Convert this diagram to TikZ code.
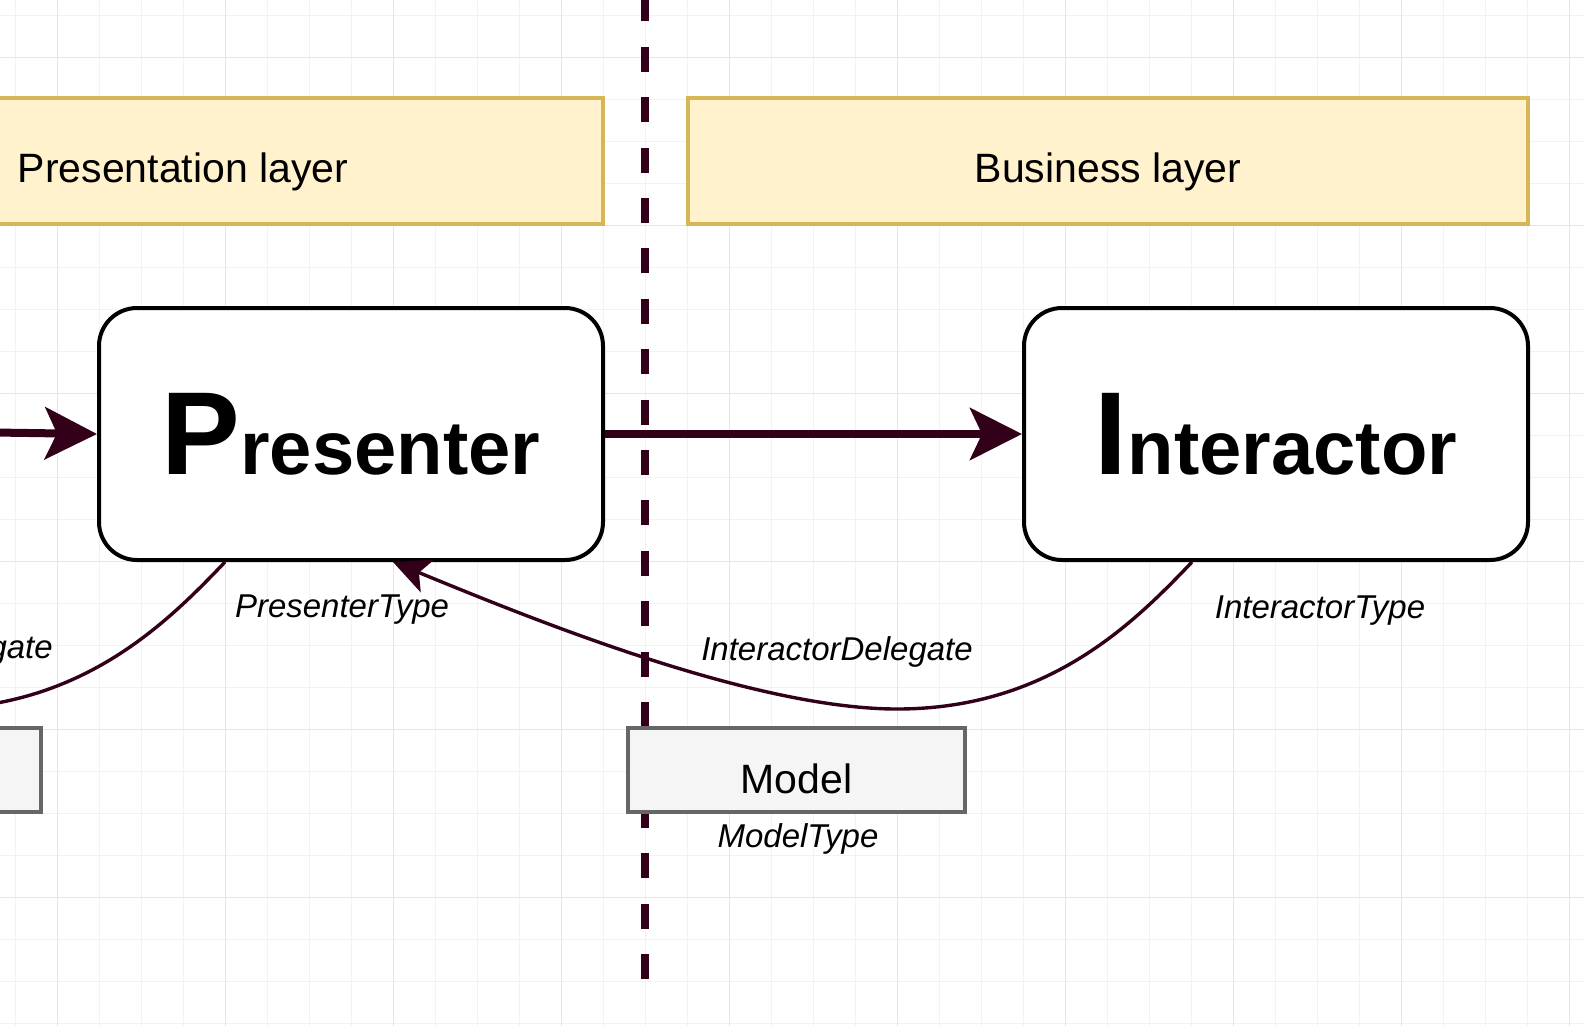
\documentclass[tikz,border=0pt]{standalone}
\usepackage{fontspec}
\setmainfont{Liberation Sans}
\usetikzlibrary{positioning,calc,arrows.meta}
\definecolor{edgecol}{HTML}{33001A}
\definecolor{layerfill}{HTML}{FFF2CC}
\definecolor{layerline}{HTML}{D6B656}
\definecolor{modelfill}{HTML}{F5F5F5}
\definecolor{modelline}{HTML}{666666}
\definecolor{gridminor}{HTML}{F2F2F2}
\definecolor{gridmajor}{HTML}{E5E5E5}
\newcommand{\firstcap}[2]{{\fontsize{118}{120}\selectfont #1}{\fontsize{76}{90}\selectfont #2}}
\tikzstyle{layer} = [draw=layerline, fill=layerfill, line width=3.3pt, rectangle, minimum width=840pt, minimum height=126pt, text height=42pt, text depth=0pt, font=\fontsize{41}{49}\selectfont]
\tikzstyle{block} = [draw=black, fill=white, line width=4pt, rectangle, rounded corners=38pt, minimum width=504pt, minimum height=252pt, font=\bfseries]
\tikzstyle{datab} = [draw=modelline, fill=modelfill, line width=3.3pt, rectangle, minimum width=337pt, minimum height=84pt, text height=46pt, text depth=0pt, font=\fontsize{41}{49}\selectfont]
\tikzstyle{typelabel} = [inner sep=0pt, anchor=base, font=\fontsize{33}{40}\selectfont\itshape]
\tikzstyle{to} = [-{Stealth[length=52pt,width=52pt,inset=12pt]}, draw=edgecol, line width=8pt]
\tikzstyle{wire} = [draw=edgecol, line width=3.4pt]
\tikzstyle{dep} = [-{Stealth[length=37pt,width=35pt,inset=9pt]}]
\tikzstyle{border} = [draw=edgecol, line width=7.5pt, dash pattern=on 25pt off 25.4pt]

\begin{document}
\begin{tikzpicture}[x=1pt, y=-1pt]
		\useasboundingbox (0,0) rectangle (1584,1026);
		\clip (0,0) rectangle (1584,1026);
		\fill[white] (0,0) rectangle (1584,1026);
		% grid
		\foreach \g in {15,57,...,1584} \draw[gridminor, line width=1pt] (\g,0) -- (\g,1026);
		\foreach \g in {15,57,...,1026} \draw[gridminor, line width=1pt] (0,\g) -- (1584,\g);
		\foreach \g in {57,225,...,1584} \draw[gridmajor, line width=1pt] (\g,0) -- (\g,1026);
		\foreach \g in {57,225,...,1026} \draw[gridmajor, line width=1pt] (0,\g) -- (1584,\g);
		% layer border
		\draw[border] (645,979) -- (645,-5);
		\node (presentation) [layer] at (183,161) {Presentation layer};
		\node (business) [layer] at (1108,161) {Business layer};
		\node (presenter) [block] at (351,434) {\firstcap{P}{resenter}};
		\node (interactor) [block] at (1276,434) {\firstcap{I}{nteractor}};
		\node (viewmodel) [datab] at (-127.5,770) {};
		\node (model) [datab] at (796.5,770) {Model};
		\coordinate (viewout) at (-40,432);
		\coordinate (viewin) at (-70,709);
		\coordinate (dip) at (897,709);
		\draw[to] (viewout) -- (presenter.west);
		\draw[to] (presenter.east) -- (interactor.west);
		\draw[wire] ([xshift=-126pt]presenter.south) .. controls (165,625) and (80,709) .. (viewin);
		\draw[wire,dep] ([xshift=-84pt]interactor.south) .. controls (1132,625) and (1047,709) .. (dip)
			.. controls (747,709) and (513,611) .. ([xshift=42pt]presenter.south);
		\node (presentertype) [typelabel] at (342,617) {PresenterType};
		\node (interactortype) [typelabel] at (1320,618) {InteractorType};
		\node (interactordelegate) [typelabel] at (837,660) {InteractorDelegate};
		\node (presenterdelegate) [typelabel, anchor=base east] at (53,658) {PresenterDelegate};
		\node (modeltype) [typelabel] at (798,847) {ModelType};
\end{tikzpicture}
\end{document}
